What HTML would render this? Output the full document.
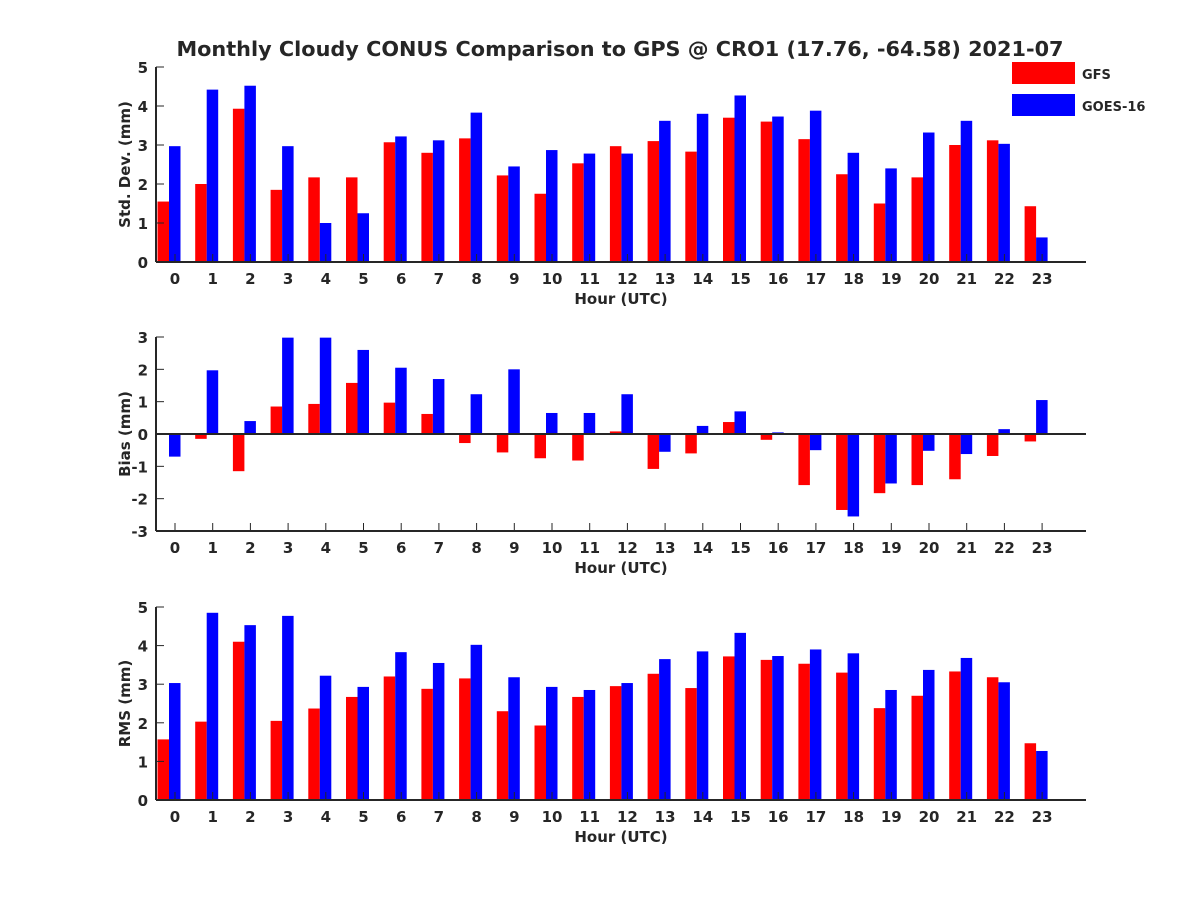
<!DOCTYPE html>
<html><head><meta charset="utf-8"><style>
body{margin:0;background:#fff}
svg text{font-family:"DejaVu Sans","Liberation Sans",sans-serif;font-weight:bold;fill:#262626}
</style></head><body>
<svg id="c" width="1200" height="900" xmlns="http://www.w3.org/2000/svg">
<text x="620" y="56" font-size="20.8" text-anchor="middle">Monthly Cloudy CONUS Comparison to GPS @ CRO1 (17.76, -64.58) 2021-07</text>
<g>
<rect x="1012" y="62" width="63" height="22" fill="#ff0000"/>
<text x="1082" y="79" font-size="13">GFS</text>
<rect x="1012" y="94" width="63" height="22" fill="#0000ff"/>
<text x="1082" y="111" font-size="13">GOES-16</text>
</g>
</svg>
<script>
const hours=[0,1,2,3,4,5,6,7,8,9,10,11,12,13,14,15,16,17,18,19,20,21,22,23];
const stdGFS=[1.55,2.0,3.93,1.85,2.17,2.17,3.07,2.8,3.17,2.22,1.75,2.53,2.97,3.1,2.83,3.7,3.6,3.15,2.25,1.5,2.17,3.0,3.12,1.43];
const stdGOES=[2.97,4.42,4.52,2.97,1.0,1.25,3.22,3.12,3.83,2.45,2.87,2.78,2.78,3.62,3.8,4.27,3.73,3.88,2.8,2.4,3.32,3.62,3.03,0.63];
const biasGFS=[0,-0.15,-1.15,0.85,0.93,1.58,0.97,0.62,-0.28,-0.57,-0.75,-0.82,0.08,-1.08,-0.6,0.37,-0.18,-1.58,-2.35,-1.83,-1.58,-1.4,-0.68,-0.23];
const biasGOES=[-0.7,1.97,0.4,2.98,2.98,2.6,2.05,1.7,1.23,2.0,0.65,0.65,1.23,-0.55,0.25,0.7,0.05,-0.5,-2.55,-1.53,-0.52,-0.62,0.15,1.05];
const rmsGFS=[1.57,2.03,4.1,2.05,2.37,2.67,3.2,2.88,3.15,2.3,1.93,2.67,2.95,3.27,2.9,3.72,3.63,3.53,3.3,2.38,2.7,3.33,3.18,1.47];
const rmsGOES=[3.03,4.85,4.53,4.77,3.22,2.93,3.83,3.55,4.02,3.18,2.93,2.85,3.03,3.65,3.85,4.33,3.73,3.9,3.8,2.85,3.37,3.68,3.05,1.27];
const stdTicks=[0,1,2,3,4,5];
const biasTicks=[-3,-2,-1,0,1,2,3];
const rmsTicks=[0,1,2,3,4,5];

const svg=document.getElementById('c');
const NS='http://www.w3.org/2000/svg';
function mk(tag,attrs,parent){const e=document.createElementNS(NS,tag);for(const k in attrs)e.setAttribute(k,attrs[k]);(parent||svg).appendChild(e);return e;}
const X0=156,X1=1086;
function xc(i){return 169+37.7*i;}

function panel(name,top,bottom,ymin,ymax,ticks,gfs,goes,ylabel){
  const g=mk('g',{});
  
  
  const y=v=>bottom-(v-ymin)/(ymax-ymin)*(bottom-top);
  const bw=11.5;
  hours.forEach((h,i)=>{
    const c=xc(i);
    const a=Math.min(y(0),y(gfs[i])),ha=Math.abs(y(gfs[i])-y(0));
    const r=mk('rect',{x:c-bw,y:a,width:bw,height:ha,fill:'#ff0000'},g);
    
    
    const b2=Math.min(y(0),y(goes[i])),hb=Math.abs(y(goes[i])-y(0));
    const r2=mk('rect',{x:c,y:b2,width:bw,height:hb,fill:'#0000ff'},g);
    
    
    const tx=c+6;
    mk('line',{x1:tx,x2:tx,y1:bottom,y2:bottom-8,stroke:'#262626','stroke-width':1},g);
    const t=mk('text',{x:tx,y:bottom+22,'font-size':15,'text-anchor':'middle'},g);
    t.textContent=h;
    
    
  });
  ticks.forEach(v=>{
    mk('line',{x1:X0,x2:X0+8,y1:y(v),y2:y(v),stroke:'#262626','stroke-width':1},g);
    const t=mk('text',{x:X0-8,y:y(v)+6,'font-size':15,'text-anchor':'end'},g);
    t.textContent=v;
    
    
  });
  mk('line',{x1:X0,x2:X0,y1:top,y2:bottom,stroke:'#262626','stroke-width':2},g);
  mk('line',{x1:X0,x2:X1,y1:bottom,y2:bottom,stroke:'#262626','stroke-width':2},g);
  if(ymin<0) mk('line',{x1:X0,x2:X1,y1:y(0),y2:y(0),stroke:'#262626','stroke-width':2},g);
  const xl=mk('text',{x:621,y:bottom+42,'font-size':15,'text-anchor':'middle'},g);
  xl.textContent='Hour (UTC)';
  
  
  const ym=(top+bottom)/2;
  const yl=mk('text',{x:130,y:ym,'font-size':15,'text-anchor':'middle',transform:'rotate(-90 130 '+ym+')'},g);
  yl.textContent=ylabel;
  
  
}
panel('std',67,262,0,5,stdTicks,stdGFS,stdGOES,'Std. Dev. (mm)');
panel('bias',337,531,-3,3,biasTicks,biasGFS,biasGOES,'Bias (mm)');
panel('rms',607,800,0,5,rmsTicks,rmsGFS,rmsGOES,'RMS (mm)');
</script>
</body></html>
